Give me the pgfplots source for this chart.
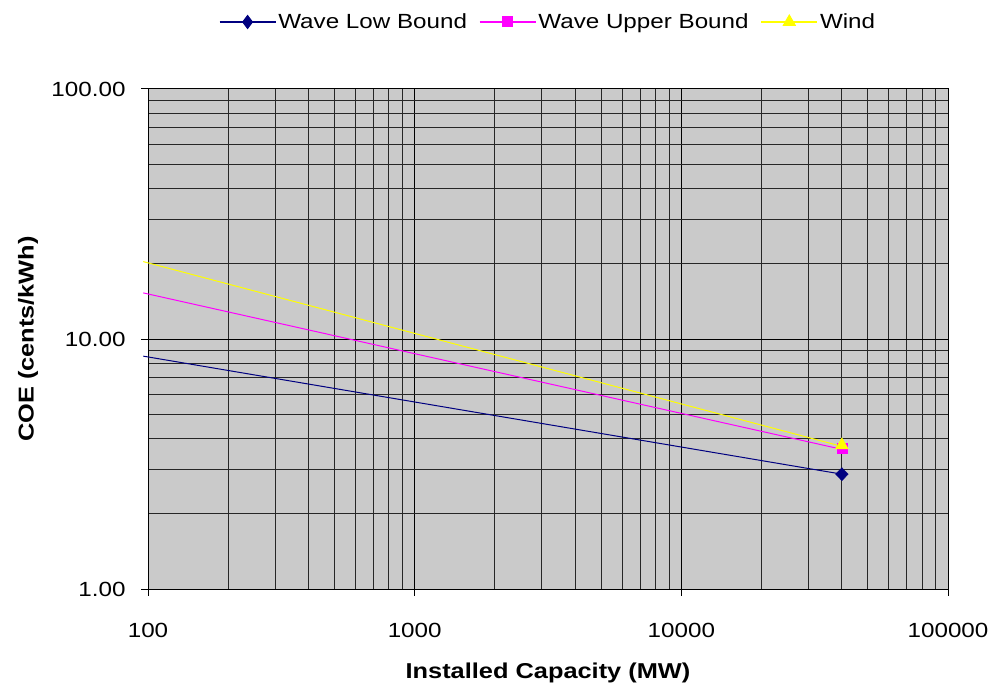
\documentclass[border=0pt]{standalone}
\usepackage{pgfplots}
\pgfplotsset{compat=1.18}
\usepackage{fontspec}
\setmainfont[FakeStretch=1.18]{Liberation Sans}
\definecolor{bgray}{HTML}{CACACA}
\definecolor{lowc}{HTML}{000080}
\definecolor{upc}{HTML}{FF00FF}
\definecolor{windc}{HTML}{FFFF00}
\begin{document}
\begin{tikzpicture}
\begin{axis}[
  scale only axis, width=800pt, height=500pt,
  xmode=log, ymode=log,
  xmin=100, xmax=100000, ymin=1, ymax=100,
  clip=false,
  axis background/.style={fill=bgray},
  axis line style={black, line width=1pt},
  grid=both,
  major grid style={black, line width=1pt},
  minor grid style={black!85, line width=0.9pt},
  xtick pos=bottom, ytick pos=left,
  tick align=outside,
  major tick length=7pt, minor tick length=0pt,
  tick style={black, line width=1pt},
  xtick={100,1000,10000,100000},
  xticklabels={100,1000,10000,100000},
  minor xtick={200,300,400,500,600,700,800,900,2000,3000,4000,5000,6000,7000,8000,9000,20000,30000,40000,50000,60000,70000,80000,90000},
  ytick={1,10,100},
  yticklabels={1.00,10.00,100.00},
  minor ytick={2,3,4,5,6,7,8,9,20,30,40,50,60,70,80,90},
  ticklabel style={font=\fontsize{20.5pt}{24pt}\selectfont},
  xticklabel style={yshift=-24pt},
  yticklabel style={xshift=-12pt},
  xlabel={\textbf{Installed Capacity (MW)}},
  ylabel={\textbf{COE (cents/kWh)}},
  xlabel style={at={(axis description cs:0.5,-0.168)}, anchor=center, font=\fontsize{21.5pt}{24pt}\selectfont},
  ylabel style={at={(axis description cs:-0.15,0.5)}, anchor=center, rotate=0, font=\fontsize{21.5pt}{24pt}\selectfont},
  legend columns=3,
  legend style={at={(0.5,1.134)}, anchor=center, draw=none, fill=none,
    font=\fontsize{20.5pt}{24pt}\selectfont,
    /tikz/every even column/.append style={column sep=10pt}},
  legend cell align=left,
  legend image code/.code={\draw[#1, mark=none, line width=1.4pt] (0pt,0pt) -- (56pt,0pt);
     \draw[#1, only marks] plot coordinates {(28pt,0pt)};},
]
\addlegendimage{lowc, line width=1pt, mark=diamond*, mark size=6.5pt, mark options={fill=lowc, draw=lowc}}
\addlegendentry{Wave Low Bound}
\addlegendimage{upc, line width=1pt, mark=square*, mark size=5pt, mark options={fill=upc, draw=upc}}
\addlegendentry{Wave Upper Bound}
\addlegendimage{windc, line width=1pt, mark=triangle*, mark size=7pt, mark options={fill=windc, draw=windc}}
\addlegendentry{Wind}

\addplot[lowc, line width=1pt, mark=none, forget plot] coordinates {(96,8.54) (40000,2.88)};
\addplot[upc, line width=1pt, mark=none, forget plot] coordinates {(96,15.29) (40000,3.62)};
\addplot[windc, line width=1pt, mark=none, forget plot] coordinates {(96,20.4) (40000,3.72)};

\addplot[only marks, mark=diamond*, mark size=6.5pt, lowc, mark options={fill=lowc, draw=lowc, xscale=1.3}, forget plot] coordinates {(40000,2.88)};
\addplot[only marks, mark=square*, mark size=5pt, upc, mark options={fill=upc, draw=upc}, forget plot] coordinates {(40000,3.65)};
\addplot[only marks, mark=triangle*, mark size=7.5pt, windc, mark options={fill=windc, draw=windc}, forget plot] coordinates {(40000,3.76)};
\end{axis}
\pgfresetboundingbox
\path ([xshift=-148pt,yshift=-99pt]current axis.south west) rectangle ([xshift=43pt,yshift=89pt]current axis.north east);
\end{tikzpicture}
\end{document}
